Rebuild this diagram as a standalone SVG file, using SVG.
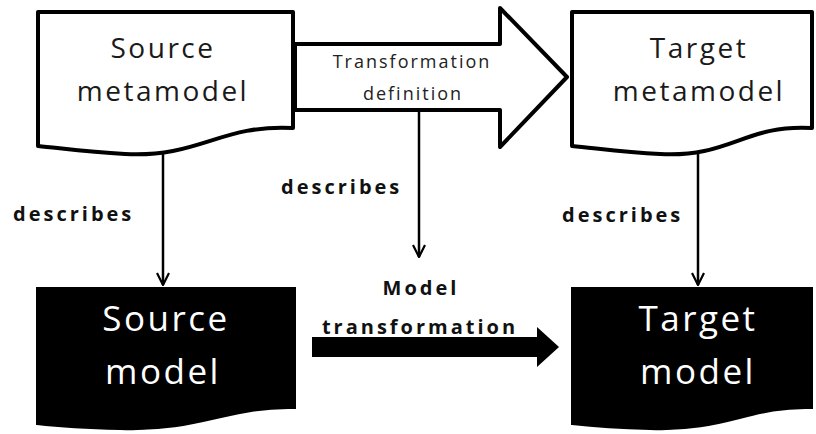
<svg xmlns="http://www.w3.org/2000/svg" width="816" height="434" viewBox="0 0 816 434">
  <defs>
    <marker id="vee" viewBox="0 0 14 14" refX="13" refY="7" markerWidth="14" markerHeight="14" markerUnits="userSpaceOnUse" orient="auto">
      <path d="M1,1 L13,7 L1,13" fill="none" stroke="#000" stroke-width="2.2"/>
    </marker>
  </defs>
  <style>
    .doc { fill: #fff; stroke: #000; stroke-width: 4; stroke-linejoin: round; }
    .docDark { fill: #000; stroke: #000; stroke-width: 2; }
    .meta { font-family: "Open Sans", sans-serif; font-size: 28px; fill: #1a1a1a; text-anchor: middle; letter-spacing: 2.5px; }
    .model { font-family: "Open Sans", sans-serif; font-size: 35px; fill: #fff; text-anchor: middle; letter-spacing: 2.5px; }
    .lbl { font-family: "Open Sans", sans-serif; font-size: 20px; font-weight: bold; fill: #111; letter-spacing: 3px; }
    .small { font-family: "Open Sans", sans-serif; font-size: 18px; fill: #222; text-anchor: middle; letter-spacing: 2px; }
    .conn { stroke: #000; stroke-width: 2.5; fill: none; }
  </style>

  <!-- source metamodel -->
  <g id="source-metamodel">
    <path class="doc" d="M38,12 H293 V128 C220,124 200,158 125,154 C85,152 60,148 38,146 Z"/>
    <text class="meta" x="163" y="58">Source</text>
    <text class="meta" x="163" y="101">metamodel</text>
  </g>

  <!-- target metamodel -->
  <g id="target-metamodel">
    <path class="doc" d="M572,12 H812 V128 C745,124 730,158 660,154 C622,152 595,148 572,146 Z"/>
    <text class="meta" x="699" y="58">Target</text>
    <text class="meta" x="699" y="101">metamodel</text>
  </g>

  <!-- transformation definition (block arrow) -->
  <g id="transformation-definition">
    <path class="doc" stroke-width="5" d="M295,44 H500 V8 L567,77 L500,147 V110 H295 Z"/>
    <text class="small" x="412" y="68">Transformation</text>
    <text class="small" x="413" y="100">definition</text>
  </g>

  <!-- source model -->
  <g id="source-model">
    <path class="docDark" d="M37,288 H295 V408 C230,406 200,432 120,429 C80,428 55,426 37,424 Z"/>
    <text class="model" x="166" y="331">Source</text>
    <text class="model" x="163" y="384">model</text>
  </g>

  <!-- target model -->
  <g id="target-model">
    <path class="docDark" d="M572,288 H812 V408 C750,406 725,432 650,429 C612,428 590,426 572,424 Z"/>
    <text class="model" x="698" y="331">Target</text>
    <text class="model" x="698" y="384">model</text>
  </g>

  <!-- model transformation label -->
  <g id="model-transformation">
    <text class="lbl" x="421" y="295" text-anchor="middle">Model</text>
    <text class="lbl" x="420" y="334" text-anchor="middle">transformation</text>
  </g>

  <!-- connectors -->
  <g id="connectors">
    <line class="conn" x1="163" y1="152" x2="163" y2="285" marker-end="url(#vee)"/>
    <line class="conn" x1="419" y1="110" x2="419" y2="257" marker-end="url(#vee)"/>
    <line class="conn" x1="698" y1="152" x2="698" y2="285" marker-end="url(#vee)"/>
    <path d="M312,337 H537 V327 L559,347 L537,367 V357 H312 Z" fill="#000"/>
    <text class="lbl" x="13" y="221">describes</text>
    <text class="lbl" x="281" y="194">describes</text>
    <text class="lbl" x="562" y="222">describes</text>
  </g>
</svg>
